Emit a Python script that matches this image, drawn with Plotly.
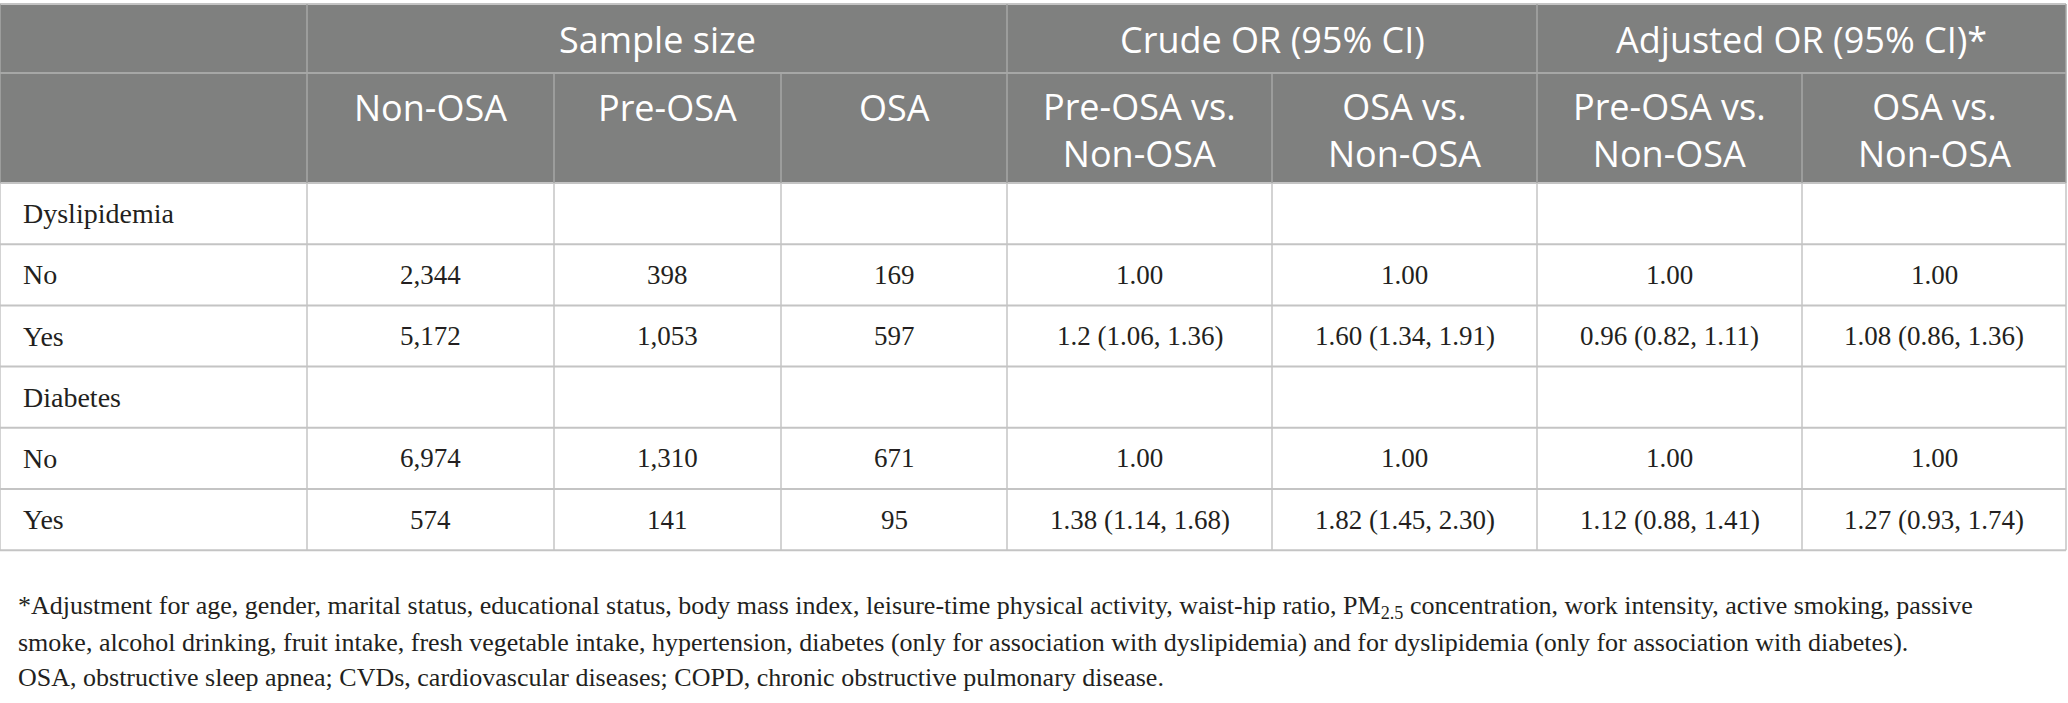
"""
OSA vs. dyslipidemia / diabetes odds-ratio table
Rebuilt as a Plotly figure with shapes + text annotations
"""

import plotly.graph_objects as go

# -------------------------------------------------------------
# DATA
# -------------------------------------------------------------
group_headers = ["Sample size", "Crude OR (95% CI)", "Adjusted OR (95% CI)*"]
sub_headers = ["Non-OSA", "Pre-OSA", "OSA",
               "Pre-OSA vs.<br>Non-OSA", "OSA vs.<br>Non-OSA",
               "Pre-OSA vs.<br>Non-OSA", "OSA vs.<br>Non-OSA"]

row_labels = ["Dyslipidemia", "No", "Yes", "Diabetes", "No", "Yes"]
non_osa = ["", "2,344", "5,172", "", "6,974", "574"]
pre_osa = ["", "398", "1,053", "", "1,310", "141"]
osa = ["", "169", "597", "", "671", "95"]
crude_pre = ["", "1.00", "1.2 (1.06, 1.36)", "", "1.00", "1.38 (1.14, 1.68)"]
crude_osa = ["", "1.00", "1.60 (1.34, 1.91)", "", "1.00", "1.82 (1.45, 2.30)"]
adj_pre = ["", "1.00", "0.96 (0.82, 1.11)", "", "1.00", "1.12 (0.88, 1.41)"]
adj_osa = ["", "1.00", "1.08 (0.86, 1.36)", "", "1.00", "1.27 (0.93, 1.74)"]

footnotes = [
    "*Adjustment for age, gender, marital status, educational status, body mass index, "
    "leisure-time physical activity, waist-hip ratio, PM<sub>2.5</sub> concentration, "
    "work intensity, active smoking, passive",
    "smoke, alcohol drinking, fruit intake, fresh vegetable intake, hypertension, diabetes "
    "(only for association with dyslipidemia) and for dyslipidemia (only for association with diabetes).",
    "OSA, obstructive sleep apnea; CVDs, cardiovascular diseases; COPD, chronic obstructive pulmonary disease.",
]

value_cols = [non_osa, pre_osa, osa, crude_pre, crude_osa, adj_pre, adj_osa]

# -------------------------------------------------------------
# LAYOUT GEOMETRY (pixels)
# -------------------------------------------------------------
W, H = 2068, 703
col_edges = [0, 307, 554, 781, 1007, 1272, 1537, 1802, 2066]
group_spans = [(1, 4), (4, 6), (6, 8)]   # column-edge index ranges
top = 4
hdr1_bottom = 73
hdr2_bottom = 183
row_h = 61.2
foot_y0 = 607
foot_dy = 35

hdr_size = 36
hdr_line_h = 1.3 * hdr_size
hdr2_first_line = 107

header_bg = '#7f807f'
header_line = '#a6a7a6'
grid_color = '#c4c4c4'
text_color = '#231f20'
sans = "Open Sans, sans-serif"
serif = "Liberation Serif, Times New Roman, serif"

fig = go.Figure()
shapes = []
annotations = []

n_rows = len(row_labels)
table_bottom = hdr2_bottom + n_rows * row_h
right = col_edges[-1]

# header background
shapes.append(dict(type='rect', x0=0, x1=right, y0=top, y1=hdr2_bottom,
                   fillcolor=header_bg, line_width=0, layer='below'))

# horizontal lines
shapes.append(dict(type='line', x0=0, x1=right, y0=top, y1=top,
                   line=dict(color=grid_color, width=2)))
shapes.append(dict(type='line', x0=0, x1=right, y0=hdr1_bottom, y1=hdr1_bottom,
                   line=dict(color=header_line, width=2)))
for i in range(n_rows + 1):
    y = hdr2_bottom + i * row_h
    shapes.append(dict(type='line', x0=0, x1=right, y0=y, y1=y,
                       line=dict(color=grid_color, width=2)))

# vertical lines: header row 1 only at group boundaries
for xe in [col_edges[0], col_edges[1], col_edges[4], col_edges[6], col_edges[-1]]:
    shapes.append(dict(type='line', x0=xe, x1=xe, y0=top, y1=hdr1_bottom,
                       line=dict(color=header_line, width=1.5)))
for xe in col_edges:
    shapes.append(dict(type='line', x0=xe, x1=xe, y0=hdr1_bottom, y1=hdr2_bottom,
                       line=dict(color=header_line, width=1.5)))
    shapes.append(dict(type='line', x0=xe, x1=xe, y0=hdr2_bottom, y1=table_bottom,
                       line=dict(color=grid_color, width=1.5)))

# group headers
for label, (a, b) in zip(group_headers, group_spans):
    annotations.append(dict(x=(col_edges[a] + col_edges[b]) / 2, y=(top + hdr1_bottom) / 2 + 1,
                            text=label, showarrow=False, xanchor='center', yanchor='middle',
                            font=dict(family=sans, size=hdr_size, color='white')))

# sub headers: first line of every header sits at the same height
for j, label in enumerate(sub_headers):
    xc = (col_edges[j + 1] + col_edges[j + 2]) / 2
    n_lines = label.count('<br>') + 1
    yc = hdr2_first_line + (n_lines - 1) * hdr_line_h / 2
    annotations.append(dict(x=xc, y=yc, text=label, showarrow=False,
                            xanchor='center', yanchor='middle', align='center',
                            font=dict(family=sans, size=hdr_size, color='white')))

# body
for i in range(n_rows):
    yc = hdr2_bottom + (i + 0.5) * row_h
    annotations.append(dict(x=21, y=yc, text=row_labels[i], showarrow=False,
                            xanchor='left', yanchor='middle',
                            font=dict(family=serif, size=28, color=text_color)))
    for j, col in enumerate(value_cols):
        if not col[i]:
            continue
        xc = (col_edges[j + 1] + col_edges[j + 2]) / 2
        annotations.append(dict(x=xc, y=yc, text=col[i], showarrow=False,
                                xanchor='center', yanchor='middle',
                                font=dict(family=serif, size=27, color=text_color)))

# footnotes
for k, line in enumerate(footnotes):
    annotations.append(dict(x=16, y=foot_y0 + k * foot_dy, text=line, showarrow=False,
                            xanchor='left', yanchor='middle',
                            font=dict(family=serif, size=26, color=text_color)))

fig.update_layout(
    width=W, height=H,
    margin=dict(l=0, r=0, t=0, b=0),
    paper_bgcolor='white', plot_bgcolor='white',
    shapes=shapes, annotations=annotations,
    showlegend=False,
)
fig.update_xaxes(range=[0, W], visible=False, fixedrange=True)
fig.update_yaxes(range=[H, 0], visible=False, fixedrange=True)

# drop the default 8px body margin so the figure sits flush in the window
fig.write_html("out.html", config={'displayModeBar': False},
               post_script="document.body.style.margin='0';")
